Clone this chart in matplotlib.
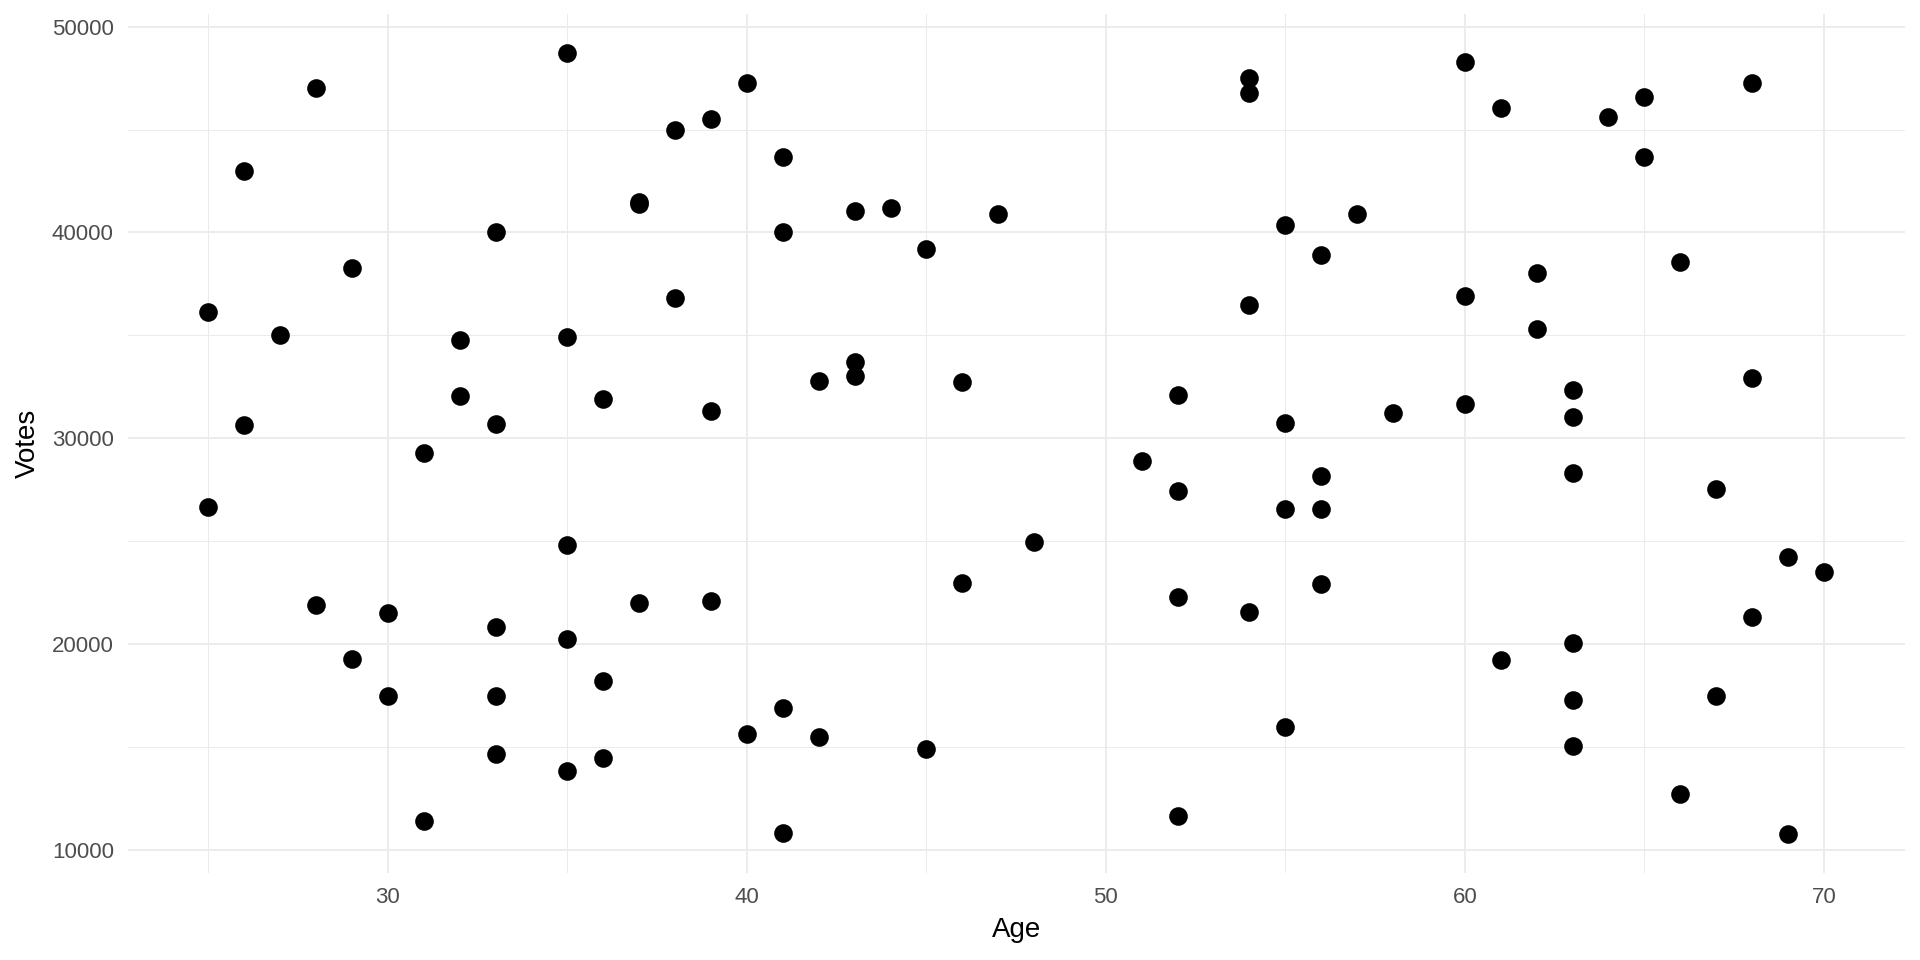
import numpy as np
import matplotlib
matplotlib.use("Agg")
import matplotlib.pyplot as plt
from matplotlib.ticker import MultipleLocator

plt.rcParams['font.family'] = ['Liberation Sans', 'DejaVu Sans']

# Age / Votes
age = [25, 25, 26, 26, 27, 28, 28, 29, 29, 30, 30, 31, 31, 32, 32,
       33, 33, 33, 33, 33, 35, 35, 35, 35, 35, 36, 36, 36, 37, 37, 37,
       38, 38, 39, 39, 39, 40, 40, 41, 41, 41, 41, 42, 42, 43, 43, 43,
       44, 45, 45, 46, 46, 47, 48, 51, 52, 52, 52, 52, 54, 54, 54, 54,
       55, 55, 55, 55, 56, 56, 56, 56, 57, 58, 60, 60, 60, 61, 61, 62, 62,
       63, 63, 63, 63, 63, 63, 64, 65, 65, 66, 66, 67, 67, 68, 68, 68,
       69, 69, 70]
votes = [36130, 26640, 43000, 30650, 35000, 47030, 21870, 38280, 19270,
         21480, 17470, 29300, 11380, 34750, 32050,
         40000, 30700, 20800, 17470, 14640,
         48700, 34900, 24790, 20260, 13820,
         31900, 18200, 14450, 41460, 41360, 21970,
         45000, 36800, 45500, 31300, 22110, 47250, 15620,
         43650, 40030, 16880, 10800, 32770, 15490, 41050, 33700, 33000,
         41200, 39200, 14890, 32720, 22940, 40920, 24940, 28900,
         32090, 27450, 22260, 11630, 47520, 46780, 36470, 21530,
         40370, 30750, 26570, 15970, 38910, 28150, 26570, 22890,
         40910, 31210, 48270, 36910, 31650, 46070, 19220, 38030, 35300,
         32330, 31015, 28300, 20050, 17270, 15030, 45630, 46560, 43680,
         38580, 12710, 27520, 17450, 47240, 32920, 21330,
         24210, 10750, 23480]

fig = plt.figure(figsize=(19.2, 9.6), dpi=100)
ax = fig.add_axes([0.0665, 0.0903, 0.9255, 0.8947])

ax.scatter(age, votes, s=180, color='black', linewidths=0, zorder=3)

# ggplot-style 5% expansion
xr = max(age) - min(age)
yr = max(votes) - min(votes)
ax.set_xlim(min(age) - 0.05 * xr, max(age) + 0.05 * xr)
ax.set_ylim(min(votes) - 0.05 * yr, max(votes) + 0.05 * yr)

ax.xaxis.set_major_locator(MultipleLocator(10))
ax.xaxis.set_minor_locator(MultipleLocator(5))
ax.yaxis.set_major_locator(MultipleLocator(10000))
ax.yaxis.set_minor_locator(MultipleLocator(5000))

ax.grid(which='major', color='#EBEBEB', linewidth=1.3)
ax.grid(which='minor', color='#EBEBEB', linewidth=0.7)
ax.set_axisbelow(True)
for s in ax.spines.values():
    s.set_visible(False)

ax.tick_params(which='both', length=0)
ax.tick_params(axis='x', labelsize=16, labelcolor='#4D4D4D', pad=10)
ax.tick_params(axis='y', labelsize=16, labelcolor='#4D4D4D', pad=10)

ax.set_xlabel("Age", fontsize=20, labelpad=6)
ax.set_ylabel("Votes", fontsize=20, labelpad=8)

fig.savefig("out.png", dpi=100)
